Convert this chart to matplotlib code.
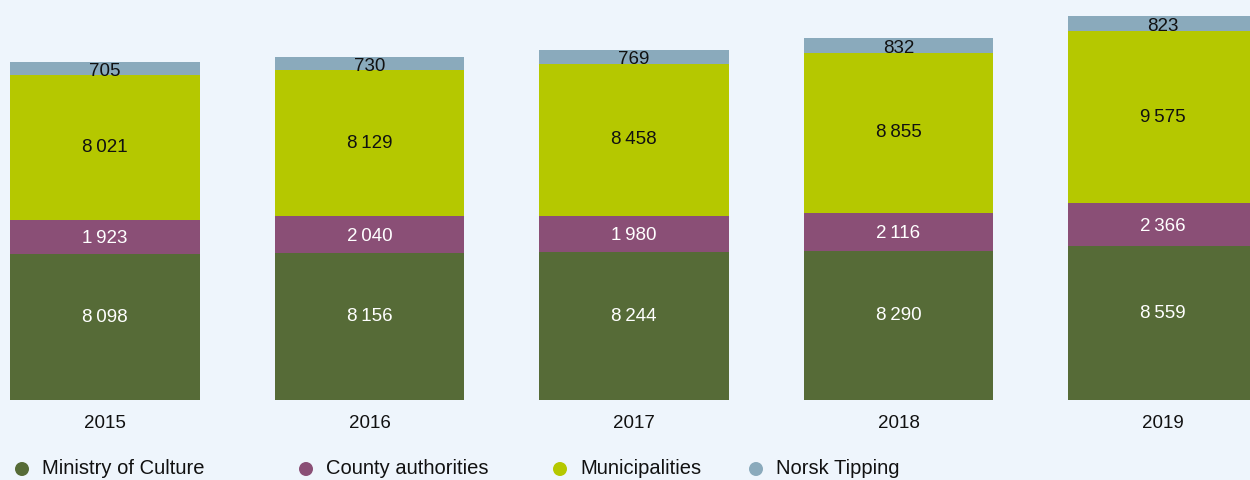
import numpy as np
import matplotlib.pyplot as plt
from matplotlib.patches import Ellipse

years = ["2015", "2016", "2017", "2018", "2019"]
ministry = [8098, 8156, 8244, 8290, 8559]
county = [1923, 2040, 1980, 2116, 2366]
municipalities = [8021, 8129, 8458, 8855, 9575]
norsk_tipping = [705, 730, 769, 832, 823]

series_names = ["Ministry of Culture", "County authorities", "Municipalities", "Norsk Tipping"]
series_colors = ["#566b37", "#8a4f76", "#b5c800", "#8aaabc"]
label_colors = ["white", "white", "#111111", "#111111"]
# vertical nudge of the value labels, in points
label_dy = [7, -1.5, 0, -2]
BG = "#eef5fc"


def fmt(v):
    return f"{v:,}".replace(",", "\u2009")


plt.rcParams["font.family"] = ["Liberation Sans", "DejaVu Sans"]

fig = plt.figure(figsize=(12.5, 4.8), dpi=100, facecolor=BG)
ax = fig.add_axes([0, 80 / 480, 1, 400 / 480])
ax.set_facecolor(BG)

x = np.arange(len(years))
width = 0.718
bottom = np.zeros(len(years))
for vals, color, tcol, dy in zip([ministry, county, municipalities, norsk_tipping],
                                 series_colors, label_colors, label_dy):
    vals = np.array(vals, dtype=float)
    ax.bar(x, vals, width, bottom=bottom, color=color, linewidth=0)
    for xi, b, v in zip(x, bottom, vals):
        ax.annotate(fmt(int(v)), (xi, b + v / 2), xytext=(0, dy), textcoords="offset points",
                    ha="center", va="center", fontsize=13.5, color=tcol)
    bottom += vals

ax.set_xlim(-105 / 264.5, 1145 / 264.5)
ax.set_ylim(0, 22210)
ax.axis("off")

for xi, yr in zip(x, years):
    ax.text(xi, -1280, yr, ha="center", va="center", fontsize=13.5, color="#111111")

# legend row along the bottom
legend_x = [22, 306, 560, 756]
for lx, name, color in zip(legend_x, series_names, series_colors):
    fig.add_artist(Ellipse((lx / 1250, 11 / 480), 14 / 1250, 14 / 480,
                           transform=fig.transFigure, facecolor=color, edgecolor="none"))
    fig.text((lx + 20) / 1250, 11 / 480, name, ha="left", va="center",
             fontsize=14.5, color="#111111")

fig.savefig("out.png", dpi=100, facecolor=BG)
